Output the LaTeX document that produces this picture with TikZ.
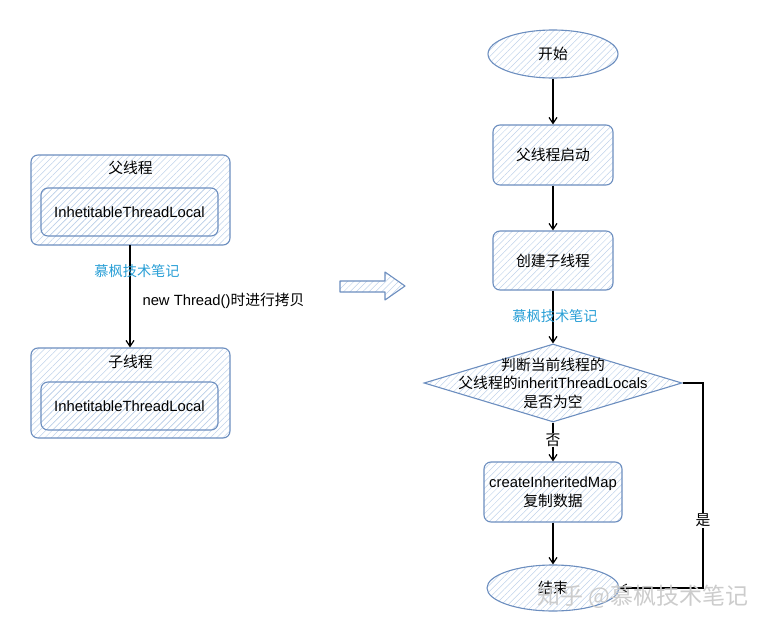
\documentclass[tikz,border=0pt]{standalone}
\usepackage{fontspec}
\setmainfont{Liberation Sans}
\newfontfamily\cjk{Noto Sans CJK SC}
\usetikzlibrary{patterns.meta,shapes.geometric,arrows.meta}
\definecolor{edge}{HTML}{6C8EBF}
\definecolor{hatch}{HTML}{BFD2EA}
\definecolor{wm}{HTML}{2A9FD6}
\tikzset{
  hatched/.style={draw=edge,line width=1.1pt,pattern={Lines[angle=45,distance=4.5pt,line width=0.5pt]},pattern color=hatch},
  boxnode/.style={hatched,rounded corners=7pt,inner sep=0pt,align=center,font=\fontsize{14.8}{19}\selectfont},
  ellnode/.style={hatched,ellipse,inner sep=0pt,font=\fontsize{14.8}{19}\selectfont},
  dianode/.style={hatched,diamond,inner sep=0pt},
  conn/.style={line width=1.2pt,-{Straight Barb[length=6pt,width=8pt]}},
  lbl/.style={font=\fontsize{14.8}{18.5}\selectfont},
  wmlbl/.style={font=\fontsize{14.2}{16}\selectfont\cjk,text=wm},
}
\begin{document}
\begin{tikzpicture}[x=1pt,y=-1pt]
\useasboundingbox (0,0) rectangle (764,629);
% left
\node[boxnode,minimum width=199pt,minimum height=90pt] (pout) at (130.5,200) {};
\node[lbl] (pl) at (130.5,168) {\cjk 父线程};
\node[boxnode,minimum width=177pt,minimum height=48pt] (pin) at (129.5,212) {InhetitableThreadLocal};
\node[boxnode,minimum width=199pt,minimum height=90pt] (cout) at (130.5,393) {};
\node[lbl] (cl) at (130.5,362) {\cjk 子线程};
\node[boxnode,minimum width=177pt,minimum height=48pt] (cin) at (129.5,406) {InhetitableThreadLocal};
\draw[conn] (pout.south -| 130,0) -- (cout.north -| 130,0);
\node[wmlbl] (w1) at (137,271) {慕枫技术笔记};
\node[lbl,anchor=west] (nt) at (139,301) {new Thread(){\cjk 时进行拷贝}};
% block arrow
\draw[hatched,line join=round] (340,281) -- (385,281) -- (385,272) -- (405,286) -- (385,300) -- (385,292) -- (340,292) -- cycle;
% right
\node[ellnode,minimum width=130pt,minimum height=48pt] (start) at (553,54) {\cjk 开始};
\node[boxnode,minimum width=120pt,minimum height=60pt] (b1) at (553,155) {\cjk 父线程启动};
\node[boxnode,minimum width=120pt,minimum height=59pt] (b2) at (553,260.5) {\cjk 创建子线程};
\node[dianode,minimum width=258pt,minimum height=78pt] (dec) at (553,383) {};
\node[lbl,align=center] (dect) at (553,383) {{\cjk 判断当前线程的}\\{\cjk 父线程的}inheritThreadLocals\\{\cjk 是否为空}};
\node[boxnode,minimum width=138pt,minimum height=60pt] (b3) at (553,492) {createInheritedMap\\{\cjk 复制数据}};
\node[ellnode,minimum width=132pt,minimum height=46pt] (end) at (553,588) {\cjk 结束};
\draw[conn] (start) -- (b1);
\draw[conn] (b1) -- (b2);
\draw[conn] (b2) -- (dec);
\node[wmlbl] (w2) at (555,316) {慕枫技术笔记};
\draw[conn] (dec) -- node[lbl,fill=white,inner sep=1pt,pos=0.45] (no) {\cjk 否} (b3);
\draw[conn] (b3) -- (end);
\coordinate (c1) at (703,383);
\coordinate (c2) at (703,588);
\draw[conn] (dec.east) -- (c1) -- node[lbl,fill=white,inner sep=1pt,pos=0.67] (yes) {\cjk 是} (c2) -- (end.east);
% watermark
\node[font=\fontsize{23}{25}\selectfont\cjk,text=gray!40,anchor=west,inner sep=0pt] (zh) at (537,597) {知乎 @慕枫技术笔记};
\end{tikzpicture}
\end{document}
